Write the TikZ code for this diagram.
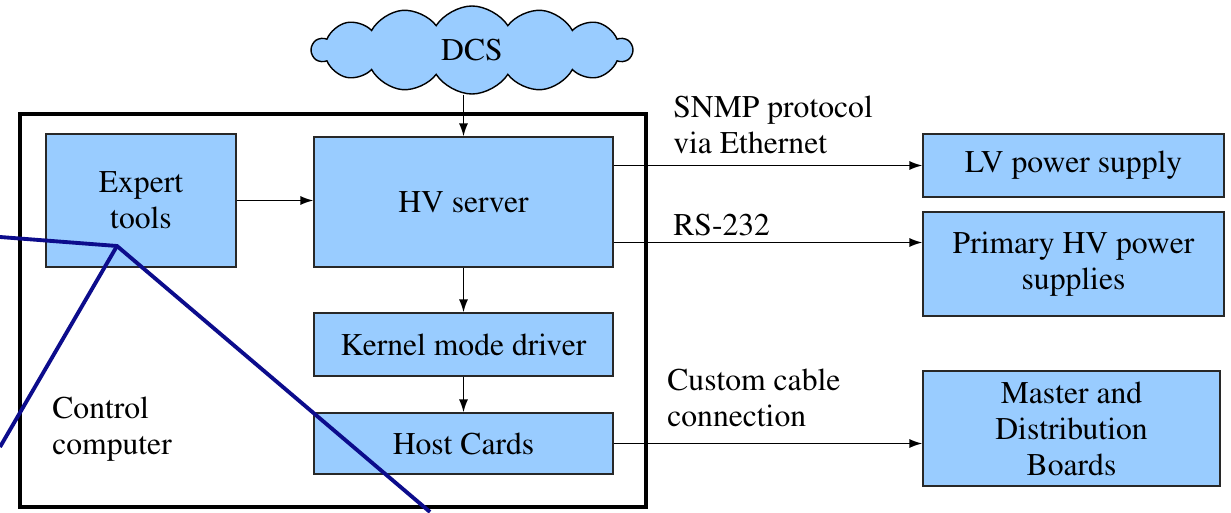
\documentclass[tikz,border=0pt]{standalone}
\usepackage[T1]{fontenc}
\usepackage{mathptmx}
\usetikzlibrary{arrows.meta,calc,positioning,shapes.symbols}
\definecolor{boxblue}{RGB}{153,204,255}
\definecolor{boxline}{RGB}{40,40,40}
\definecolor{zoomnavy}{RGB}{12,12,140}
\tikzset{
  block/.style={draw=boxline, line width=0.6pt, fill=boxblue,
                inner sep=2pt, align=center,
                font=\fontsize{18}{20.5}\selectfont},
  dcscloud/.style={cloud, cloud puffs=14, cloud puff arc=115,
                   cloud ignores aspect, draw=black, line width=0.8pt,
                   fill=boxblue, minimum width=6.4cm, minimum height=1.76cm,
                   font=\fontsize{18}{20.5}\selectfont},
  lab/.style={inner sep=0pt, align=left,
              font=\fontsize{18}{20.5}\selectfont},
  flow/.style={-{Latex[length=2.6mm,width=1.8mm]}, line width=1pt},
  frame/.style={draw=black, line width=2.8pt},
  zoomline/.style={draw=zoomnavy, line width=2.2pt},
}
\begin{document}
\begin{tikzpicture}[x=1cm,y=1cm]
  \path[use as bounding box] (0,0) rectangle (24.62,10.24);

  % Control computer frame.
  \node[frame, minimum width=12.52cm, minimum height=7.86cm] (CC) at (6.66,4.03) {};
  \node[lab, anchor=north west] (CTRL) at (1.04,2.31) {Control\\computer};

  \node[dcscloud] (DCS) at (9.44,9.24) {DCS};
  \node[block, minimum width=3.80cm, minimum height=2.66cm] (ET) at (2.82,6.23)
    {Expert\\tools};
  \node[block, minimum width=5.98cm, minimum height=2.60cm] (HV) at (9.27,6.20)
    {HV server};
  \node[block, minimum width=5.98cm, minimum height=1.26cm] (KMD) at (9.27,3.35)
    {Kernel mode driver};
  \node[block, minimum width=5.98cm, minimum height=1.22cm] (HC) at (9.27,1.37)
    {Host Cards};

  % Hardware on the right.
  \node[block, minimum width=6.02cm, minimum height=1.26cm] (LV) at (21.47,6.93)
    {LV power supply};
  \node[block, minimum width=6.02cm, minimum height=2.08cm] (PHV) at (21.47,4.96)
    {Primary HV power\\supplies};
  \node[block, minimum width=5.94cm, minimum height=2.30cm] (MDB) at (21.43,1.67)
    {Master and\\Distribution\\Boards};

  \draw[flow] (HV.north |- DCS.south) -- (HV.north);
  \draw[flow] (ET.east) -- (ET.east -| HV.west);
  \draw[flow] (HV.south) -- (KMD.north);
  \draw[flow] (KMD.south) -- (HC.north);
  \draw[flow] (HV.east |- LV.west) -- (LV.west);
  \draw[flow] ([yshift=-8.1mm]HV.east) -- ([yshift=-8.1mm]HV.east -| PHV.west);
  \draw[flow] (HC.east) -- (HC.east -| MDB.west);

  \node[lab, anchor=north west] (SNMP) at (13.46,8.33) {SNMP protocol\\via Ethernet};
  \node[lab, anchor=base west] (RS) at (13.46,5.54) {RS-232};
  \node[lab, anchor=north west] (CUST) at (13.34,2.87) {Custom cable\\connection};

  % Zoom lines on top.
  \coordinate (zoomP) at (2.34,5.32);
  \coordinate (zoomA) at (0,5.50);
  \coordinate (zoomB) at (0,1.30);
  \coordinate (zoomC) at (8.60,0);
  \draw[zoomline] (zoomA) -- (zoomP) -- (zoomC);
  \draw[zoomline] (zoomP) -- (zoomB);
\end{tikzpicture}
\end{document}
